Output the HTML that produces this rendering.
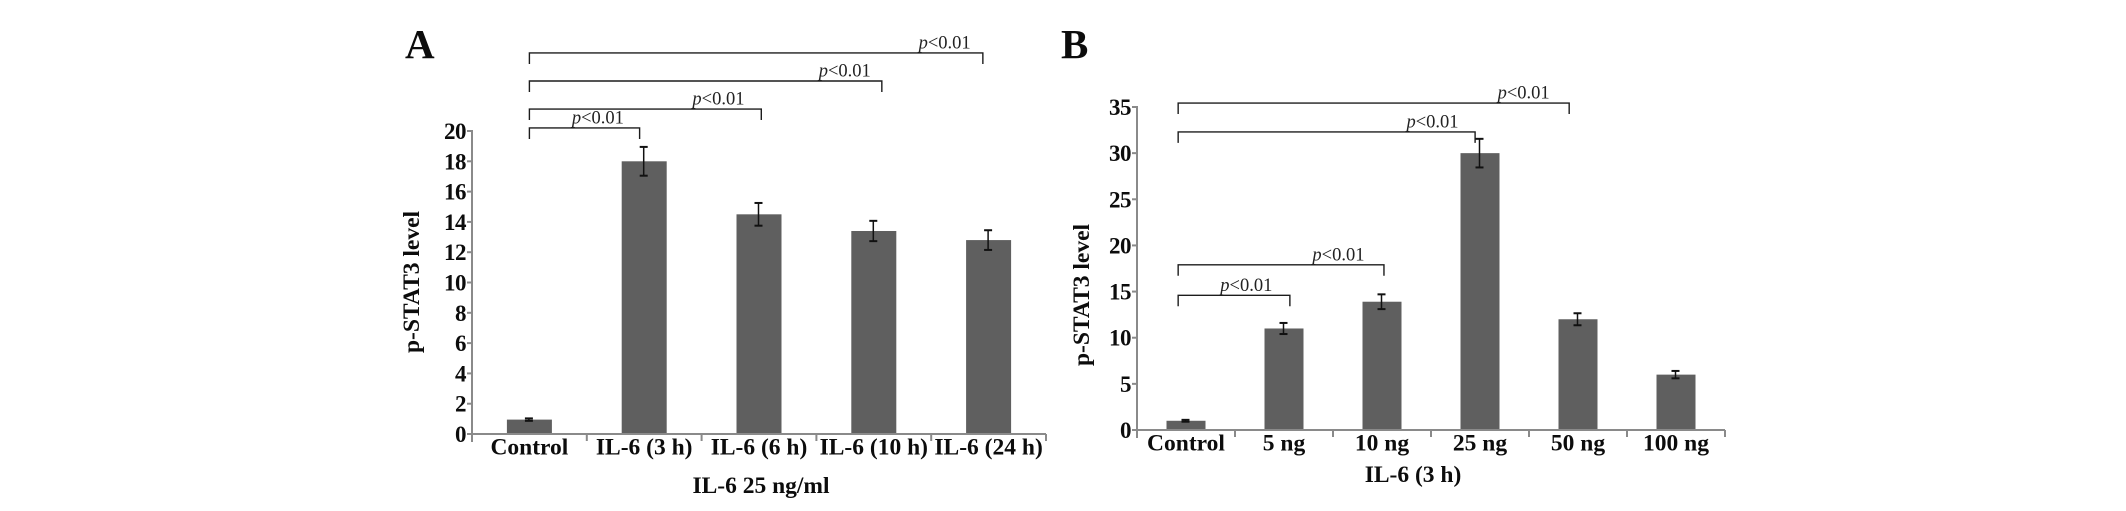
<!DOCTYPE html>
<html lang="en">
<head>
<meta charset="utf-8">
<title>p-STAT3 level bar charts</title>
<style>
  html, body { margin: 0; padding: 0; background: #ffffff; }
  body { width: 2126px; height: 511px; overflow: hidden; }
  svg { display: block; }
  text { font-family: "Liberation Serif", serif; fill: #0c0c0c; }
  .bold { font-weight: 700; }
  .tick { font-size: 23px; font-weight: 700; letter-spacing: -0.5px; }
  .cat { font-size: 23.5px; font-weight: 700; }
  .title { font-size: 23.5px; font-weight: 700; }
  .panel { font-size: 41px; font-weight: 700; }
  .sig { font-size: 18.5px; fill: #222; }
</style>
</head>
<body>
<svg id="figure" width="2126" height="511" viewBox="0 0 2126 511" xmlns="http://www.w3.org/2000/svg"></svg>
<script>
// Panel A data
const categoriesA = ['Control', 'IL-6 (3 h)', 'IL-6 (6 h)', 'IL-6 (10 h)', 'IL-6 (24 h)'];
const valuesA = [0.95, 18, 14.5, 13.4, 12.8];
const errorsA = [0.08, 0.95, 0.75, 0.67, 0.65];
const ticksA = [0, 2, 4, 6, 8, 10, 12, 14, 16, 18, 20];
// Significance brackets A: [start category, end category, level in axis units, label category]
const bracketStartA = [0, 0, 0, 0];
const bracketEndA = [0.96, 2.02, 3.07, 3.95];
const bracketLevelA = [20.2, 21.45, 23.3, 25.15];
const bracketLabelA = [0.37, 1.42, 2.52, 3.39];

// Panel B data
const categoriesB = ['Control', '5 ng', '10 ng', '25 ng', '50 ng', '100 ng'];
const valuesB = [1, 11, 13.9, 30, 12, 6];
const errorsB = [0.1, 0.6, 0.8, 1.55, 0.65, 0.4];
const ticksB = [0, 5, 10, 15, 20, 25, 30, 35];
const bracketStartB = [-0.08, -0.08, -0.08, -0.08];
const bracketEndB = [1.06, 2.02, 2.95, 3.91];
const bracketLevelB = [14.6, 17.9, 32.3, 35.43];
const bracketLabelB = [0.35, 1.29, 2.25, 3.18];

const svg = document.getElementById('figure');
const NS = 'http://www.w3.org/2000/svg';

function mk(tag, attrs, parent) {
  const el = document.createElementNS(NS, tag);
  for (const k in attrs) el.setAttribute(k, attrs[k]);
  (parent || svg).appendChild(el);
  return el;
}

function drawPanel(cfg) {
  const g = mk('g', {});
  
  

  const step = (cfg.x1 - cfg.x0) / cfg.categories.length;
  const xScale = function (i) { return cfg.x0 + step * (i + 0.5) + cfg.shift; };
  const yScale = function (v) { return cfg.y0 - (cfg.y0 - cfg.yTop) * v / cfg.yMax; };
  const axisColor = '#8a8a8a';

  // bars
  cfg.values.forEach(function (v, i) {
    const bar = mk('rect', {
      x: xScale(i) - cfg.barWidth / 2, y: yScale(v),
      width: cfg.barWidth, height: cfg.y0 - yScale(v), fill: '#5f5f5f'
    }, g);
    
    
  });

  // error bars
  cfg.values.forEach(function (v, i) {
    const e = mk('g', { stroke: '#111', fill: 'none' }, g);
    
    
    const cx = xScale(i) - 0.5;
    const top = yScale(v + cfg.errors[i]);
    const bot = yScale(v - cfg.errors[i]);
    mk('line', { x1: cx, x2: cx, y1: top, y2: bot, 'stroke-width': 1.5 }, e);
    mk('line', { x1: cx - 4, x2: cx + 4, y1: top, y2: top, 'stroke-width': 2 }, e);
    mk('line', { x1: cx - 4, x2: cx + 4, y1: bot, y2: bot, 'stroke-width': 2 }, e);
  });

  // y axis
  const yAxis = mk('g', { stroke: axisColor, 'stroke-width': 2 }, g);
  
  
  mk('line', { x1: cfg.x0, x2: cfg.x0, y1: cfg.yTop - 1, y2: cfg.y0 + 8 }, yAxis);
  cfg.ticks.forEach(function (t) {
    mk('line', { x1: cfg.x0 - 5, x2: cfg.x0, y1: yScale(t), y2: yScale(t) }, yAxis);
    const lab = mk('text', {
      x: cfg.x0 - 6, y: yScale(t) + 8, 'text-anchor': 'end', class: 'tick', stroke: 'none'
    }, g);
    
    
    lab.textContent = t;
  });

  // x axis
  const xAxis = mk('g', { stroke: axisColor, 'stroke-width': 2 }, g);
  
  
  mk('line', { x1: cfg.x0, x2: cfg.x1, y1: cfg.y0, y2: cfg.y0 }, xAxis);
  for (let i = 0; i <= cfg.categories.length; i++) {
    const tx = cfg.x0 + step * i;
    mk('line', { x1: tx, x2: tx, y1: cfg.y0, y2: cfg.y0 + 7 }, xAxis);
  }
  cfg.categories.forEach(function (c, i) {
    const lab = mk('text', {
      x: xScale(i), y: cfg.y0 + 20.5, 'text-anchor': 'middle', class: 'cat'
    }, g);
    
    
    lab.textContent = c;
  });

  // significance brackets
  const bracketY = function (l) { return yScale(l); };
  cfg.bracketEnd.forEach(function (end, i) {
    const b = mk('g', {}, g);
    
    
    const y = bracketY(cfg.bracketLevel[i]);
    const xa = xScale(cfg.bracketStart[i]);
    const xb = xScale(end);
    mk('path', {
      d: 'M' + xa + ' ' + (y + 11) + 'V' + y + 'H' + xb + 'V' + (y + 11),
      fill: 'none', stroke: '#1c1c1c', 'stroke-width': 1.4
    }, b);
    const t = mk('text', { x: xScale(cfg.bracketLabel[i]), y: y - 4.5, class: 'sig' }, b);
    const p = mk('tspan', { 'font-style': 'italic' }, t);
    p.textContent = 'p';
    const rest = mk('tspan', {}, t);
    rest.textContent = '<0.01';
  });

  // titles
  const yt = mk('text', {
    x: 0, y: 0, 'text-anchor': 'middle', class: 'title',
    transform: 'translate(' + cfg.yTitleX + ' ' + cfg.yTitleY + ') rotate(-90)'
  }, g);
  
  
  yt.textContent = 'p-STAT3 level';

  const xt = mk('text', { x: cfg.xTitleX, y: cfg.xTitleY, 'text-anchor': 'middle', class: 'title' }, g);
  
  
  xt.textContent = cfg.xTitle;

  const pl = mk('text', { x: cfg.panelX, y: 58, class: 'panel' }, g);
  
  
  pl.textContent = cfg.panel;
}

drawPanel({
  id: 'a', panel: 'A', panelX: 405,
  categories: categoriesA, values: valuesA, errors: errorsA, ticks: ticksA,
  bracketStart: bracketStartA, bracketEnd: bracketEndA,
  bracketLevel: bracketLevelA, bracketLabel: bracketLabelA,
  x0: 472, x1: 1046, y0: 434, yTop: 131, yMax: 20, barWidth: 45, shift: 0,
  yTitleX: 419, yTitleY: 282, xTitle: 'IL-6 25 ng/ml', xTitleX: 761, xTitleY: 493
});

drawPanel({
  id: 'b', panel: 'B', panelX: 1061,
  categories: categoriesB, values: valuesB, errors: errorsB, ticks: ticksB,
  bracketStart: bracketStartB, bracketEnd: bracketEndB,
  bracketLevel: bracketLevelB, bracketLabel: bracketLabelB,
  x0: 1137, x1: 1725, y0: 430, yTop: 107, yMax: 35, barWidth: 39, shift: 0,
  yTitleX: 1089, yTitleY: 295, xTitle: 'IL-6 (3 h)', xTitleX: 1413, xTitleY: 482
});
</script>
</body>
</html>
